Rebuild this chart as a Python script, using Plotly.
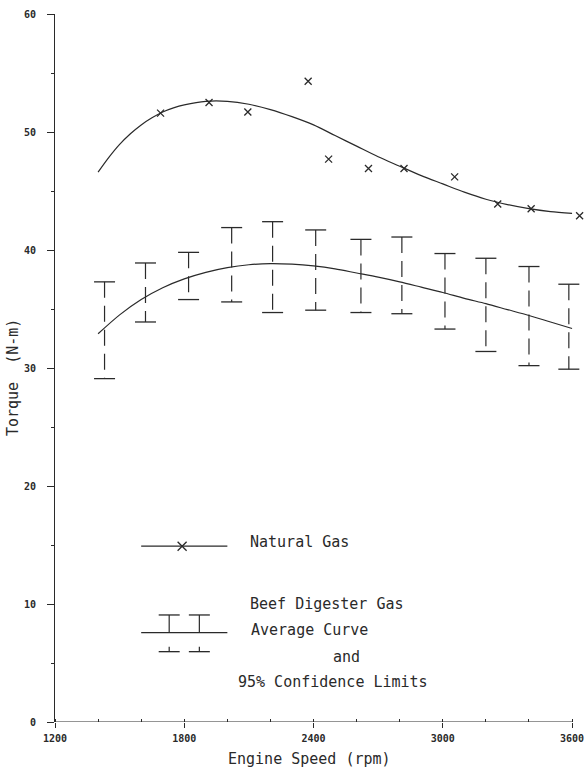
import plotly.graph_objects as go

# ---------------- data ----------------
# Natural gas measured points
ng_rpm = [1690, 1915, 2095, 2375, 2470, 2655, 2820, 3055, 3255, 3410, 3635]
ng_torque = [51.6, 52.5, 51.7, 54.3, 47.7, 46.9, 46.9, 46.2, 43.9, 43.5, 42.9]

# Natural gas fitted curve
ng_curve_rpm = [1400, 1450, 1500, 1550, 1600, 1650, 1700, 1750, 1800, 1900, 2000, 2100,
                2200, 2300, 2400, 2500, 2600, 2700, 2800, 2900, 3000, 3100, 3200, 3300,
                3400, 3500, 3600]
ng_curve_torque = [46.6, 47.85, 48.95, 49.85, 50.6, 51.2, 51.7, 52.05, 52.3, 52.6, 52.6, 52.35,
                   51.9, 51.3, 50.6, 49.7, 48.8, 47.9, 47.1, 46.3, 45.6, 44.9, 44.3, 43.85,
                   43.5, 43.25, 43.1]

# Beef digester gas: average curve and 95% confidence limits
bd_rpm = [1430, 1620, 1820, 2020, 2210, 2410, 2620, 2810, 3010, 3200, 3400, 3585]
bd_upper = [37.3, 38.9, 39.8, 41.9, 42.4, 41.7, 40.9, 41.1, 39.7, 39.3, 38.6, 37.1]
bd_lower = [29.1, 33.9, 35.8, 35.6, 34.7, 34.9, 34.7, 34.6, 33.3, 31.4, 30.2, 29.9]

bd_curve_rpm = [1400, 1500, 1600, 1700, 1800, 1900, 2000, 2100, 2200, 2300, 2400,
                2500, 2600, 2700, 2800, 2900, 3000, 3100, 3200, 3300, 3400, 3500, 3600]
bd_curve_torque = [32.9, 34.5, 35.8, 36.8, 37.55, 38.1, 38.5, 38.75, 38.85, 38.8, 38.65,
                   38.4, 38.05, 37.7, 37.3, 36.85, 36.4, 35.9, 35.45, 34.95, 34.45, 33.9, 33.35]

x_ticks = [1200, 1800, 2400, 3000, 3600]
y_ticks = [0, 10, 20, 30, 40, 50, 60]

INK = "#2a2a2a"
MONO = "DejaVu Sans Mono"

X_MIN, X_MAX = x_ticks[0], x_ticks[-1]
X_VIEW_MAX = 3660  # plot area runs to the page edge so the last point stays visible

fig = go.Figure()

# Natural gas curve
fig.add_trace(go.Scatter(x=ng_curve_rpm, y=ng_curve_torque, mode="lines",
                         line=dict(color=INK, width=1.2, shape="spline", smoothing=0.8),
                         showlegend=False, hoverinfo="skip"))
# Natural gas points
fig.add_trace(go.Scatter(x=ng_rpm, y=ng_torque, mode="markers", cliponaxis=False,
                         marker=dict(symbol="x-thin", size=7, line=dict(color=INK, width=1.3)),
                         showlegend=False))

# Beef digester curve
fig.add_trace(go.Scatter(x=bd_curve_rpm, y=bd_curve_torque, mode="lines",
                         line=dict(color=INK, width=1.2, shape="spline", smoothing=0.8),
                         showlegend=False, hoverinfo="skip"))

# Confidence-limit stems (dashed)
sx, sy = [], []
for xv, up, lo in zip(bd_rpm, bd_upper, bd_lower):
    sx += [xv, xv, None]
    sy += [up, lo, None]
fig.add_trace(go.Scatter(x=sx, y=sy, mode="lines",
                         line=dict(color=INK, width=1.2, dash="16px,8px"),
                         showlegend=False, hoverinfo="skip"))
# Caps
fig.add_trace(go.Scatter(x=bd_rpm + bd_rpm, y=bd_upper + bd_lower, mode="markers",
                         marker=dict(symbol="line-ew", size=15, line=dict(color=INK, width=1.3)),
                         showlegend=False))

# ---------------- hand-drawn legend ----------------
fig.add_trace(go.Scatter(x=[1600, 2000], y=[14.9, 14.9], mode="lines",
                         line=dict(color=INK, width=1.2), showlegend=False, hoverinfo="skip"))
fig.add_trace(go.Scatter(x=[1790], y=[14.9], mode="markers",
                         marker=dict(symbol="x-thin", size=9, line=dict(color=INK, width=1.3)),
                         showlegend=False, hoverinfo="skip"))
fig.add_trace(go.Scatter(x=[1600, 2000], y=[7.57, 7.57], mode="lines",
                         line=dict(color=INK, width=1.2), showlegend=False, hoverinfo="skip"))
fig.add_trace(go.Scatter(x=[1730, 1730, None, 1870, 1870, None, 1730, 1730, None, 1870, 1870],
                         y=[9.07, 7.57, None, 9.07, 7.57, None, 6.38, 5.96, None, 6.38, 5.96],
                         mode="lines", line=dict(color=INK, width=1.2),
                         showlegend=False, hoverinfo="skip"))
fig.add_trace(go.Scatter(x=[1730, 1870, 1730, 1870], y=[9.07, 9.07, 5.96, 5.96], mode="markers",
                         marker=dict(symbol="line-ew", size=15, line=dict(color=INK, width=1.3)),
                         showlegend=False, hoverinfo="skip"))

txt_font = dict(family=MONO, size=15, color=INK)
anns = [
    dict(x=2096, y=15.25, text="Natural Gas", xanchor="left"),
    dict(x=2096, y=10.0, text="Beef Digester Gas", xanchor="left"),
    dict(x=2100, y=7.8, text="Average Curve", xanchor="left"),
    dict(x=2554, y=5.5, text="and", xanchor="center"),
    dict(x=2490, y=3.4, text="95% Confidence Limits", xanchor="center"),
]
for a in anns:
    fig.add_annotation(x=a["x"], y=a["y"], xref="x", yref="y", text=a["text"],
                       xanchor=a["xanchor"], yanchor="middle", showarrow=False, font=txt_font)

# axis titles
fig.add_annotation(x=2380, y=-0.052, xref="x", yref="paper", text="Engine Speed (rpm)",
                   xanchor="center", yanchor="middle", showarrow=False, font=txt_font)
fig.add_annotation(x=-0.079, y=0.486, xref="paper", yref="paper", text="Torque  (N-m)",
                   textangle=-90, xanchor="center", yanchor="middle", showarrow=False, font=txt_font)

# x-axis baseline only up to the last tick
fig.add_shape(type="line", xref="x", yref="y", x0=X_MIN, x1=X_MAX, y0=0, y1=0,
              line=dict(color=INK, width=1))

fig.update_layout(
    width=585, height=767,
    margin=dict(l=55, r=0, t=14, b=45),
    paper_bgcolor="white", plot_bgcolor="white",
    showlegend=False,
    xaxis=dict(range=[X_MIN, X_VIEW_MAX], tickvals=x_ticks, ticktext=[str(v) for v in x_ticks],
               showgrid=False, zeroline=False, showline=False, automargin=False,
               ticks="outside", ticklen=5, tickwidth=1, tickcolor=INK,
               minor=dict(dtick=200, tick0=1200, ticks="inside", ticklen=3, tickcolor=INK, showgrid=False),
               tickfont=dict(family=MONO, size=10, color=INK, weight="bold"),
               ticklabelstandoff=2),
    yaxis=dict(range=[0, 60], tickvals=y_ticks, ticktext=[str(v) for v in y_ticks],
               showgrid=False, zeroline=False, showline=True, linecolor=INK, linewidth=1,
               automargin=False,
               ticks="outside", ticklen=7, tickwidth=1, tickcolor=INK,
               minor=dict(dtick=5, tick0=0, ticks="outside", ticklen=3, tickcolor=INK, showgrid=False),
               tickfont=dict(family=MONO, size=10, color=INK, weight="bold"),
               ticklabelstandoff=9),
)

fig.write_html("out.html")
